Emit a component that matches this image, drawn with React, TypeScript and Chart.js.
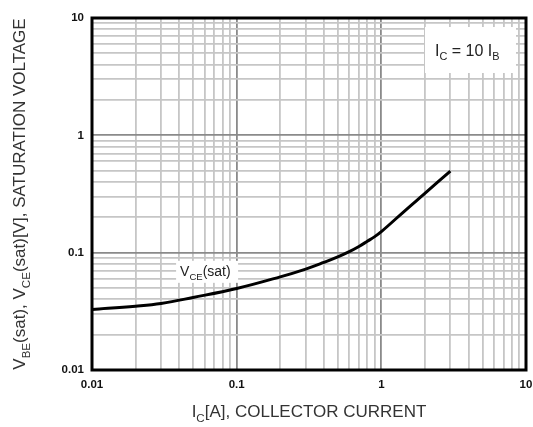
import { useEffect, useRef } from 'react';
import { Chart, registerables } from 'chart.js';
Chart.register(...registerables);

// Data (I_C = 10 I_B, V_CE(sat) curve)
const currentA = [0.01, 0.02, 0.03, 0.05, 0.1, 0.2, 0.3, 0.4, 0.5, 0.6, 0.7, 0.8, 0.9, 1.0, 1.48, 2.0, 3.0];
const vceSat = [0.0328, 0.035, 0.0369, 0.0415, 0.0495, 0.0622, 0.0725, 0.0825, 0.092, 0.102, 0.113, 0.125, 0.137, 0.151, 0.232, 0.32, 0.496];

const decadeTicks = [0.01, 0.1, 1, 10];
const decadeLabels = ['0.01', '0.1', '1', '10'];
const gridMultipliers = [1, 2, 3, 4, 5, 6, 7, 8, 9];

const FONT = '"Liberation Sans", Arial, Helvetica, sans-serif';

function gridValues(): number[] {
  const out: number[] = [];
  for (let i = 0; i < decadeTicks.length - 1; i++) {
    for (const m of gridMultipliers) out.push(Number((decadeTicks[i] * m).toPrecision(3)));
  }
  out.push(decadeTicks[decadeTicks.length - 1]);
  return out;
}

function decadeIndex(v: number): number {
  return decadeTicks.findIndex((d) => Math.abs(Math.log10(v / d)) < 1e-6);
}

type Part = { t: string; sub?: boolean };

function drawRich(ctx: CanvasRenderingContext2D, parts: Part[], x: number, y: number, size: number, align: 'left' | 'center') {
  const subSize = size * 0.68;
  const widths = parts.map((p) => {
    ctx.font = `${p.sub ? subSize : size}px ${FONT}`;
    return ctx.measureText(p.t).width;
  });
  const total = widths.reduce((a, b) => a + b, 0);
  let cx = align === 'center' ? x - total / 2 : x;
  ctx.textAlign = 'left';
  ctx.textBaseline = 'alphabetic';
  parts.forEach((p, i) => {
    ctx.font = `${p.sub ? subSize : size}px ${FONT}`;
    ctx.fillText(p.t, cx, p.sub ? y + size * 0.28 : y);
    cx += widths[i];
  });
}

const yTitle: Part[] = [
  { t: 'V' }, { t: 'BE', sub: true }, { t: '(sat), V' }, { t: 'CE', sub: true }, { t: '(sat)[V], SATURATION VOLTAGE' },
];
const xTitle: Part[] = [{ t: 'I' }, { t: 'C', sub: true }, { t: '[A], COLLECTOR CURRENT' }];
const condText: Part[] = [{ t: 'I' }, { t: 'C', sub: true }, { t: ' = 10 I' }, { t: 'B', sub: true }];
const curveLabel: Part[] = [{ t: 'V' }, { t: 'CE', sub: true }, { t: '(sat)' }];

const decorations = {
  id: 'decorations',
  beforeDatasetsDraw(chart: any) {
    const { ctx, chartArea, scales } = chart;
    ctx.save();
    // condition box (white, top right)
    const bx = chartArea.left + 333, by = chartArea.top + 9, bw = 91, bh = 46;
    ctx.fillStyle = '#fff';
    ctx.fillRect(bx, by, bw, bh);
    ctx.fillStyle = '#222';
    drawRich(ctx, condText, bx + 10, by + 29, 16, 'left');
    // curve label
    const lx = scales.x.getPixelForValue(0.04);
    const ly = scales.y.getPixelForValue(0.07);
    ctx.fillStyle = '#fff';
    ctx.fillRect(lx - 3, ly - 10, 62, 22);
    ctx.fillStyle = '#222';
    drawRich(ctx, curveLabel, lx + 1, ly + 5, 14, 'left');
    ctx.restore();
  },
  afterDraw(chart: any) {
    const { ctx, chartArea } = chart;
    ctx.save();
    ctx.strokeStyle = '#000';
    ctx.lineWidth = 3;
    ctx.strokeRect(chartArea.left, chartArea.top, chartArea.right - chartArea.left, chartArea.bottom - chartArea.top);
    ctx.fillStyle = '#333';
    drawRich(ctx, xTitle, (chartArea.left + chartArea.right) / 2, 417, 17, 'center');
    ctx.translate(25, (chartArea.top + chartArea.bottom) / 2);
    ctx.rotate(-Math.PI / 2);
    drawRich(ctx, yTitle, 0, 0, 17, 'center');
    ctx.restore();
  },
};

function logAxis(fitProp: 'width' | 'height', fitSize: number) {
  return {
    type: 'logarithmic' as const,
    min: 0.01,
    max: 10,
    afterBuildTicks(scale: any) {
      scale.ticks = gridValues().map((v) => ({ value: v, major: decadeIndex(v) >= 0 }));
    },
    afterFit(scale: any) {
      scale[fitProp] = fitSize;
      scale.paddingLeft = 0;
      scale.paddingRight = 0;
      scale.paddingTop = 0;
      scale.paddingBottom = 0;
    },
    border: { display: false },
    grid: {
      drawTicks: false,
      color: (c: any) => (c.tick && decadeIndex(c.tick.value) >= 0 ? '#8a8a8a' : '#c6c6c6'),
      lineWidth: 1.8,
    },
    ticks: {
      autoSkip: false,
      maxRotation: 0,
      padding: 8,
      color: '#111',
      font: { family: FONT, size: 11.5, weight: 'bold' as const },
      callback: (v: any) => {
        const i = decadeIndex(Number(v));
        return i >= 0 ? decadeLabels[i] : '';
      },
    },
  };
}

export default function App() {
  const ref = useRef<HTMLCanvasElement>(null);
  useEffect(() => {
    document.body.style.margin = '0';
    const chart = new Chart(ref.current!, {
      type: 'line',
      data: {
        datasets: [
          {
            label: 'VCE(sat)',
            data: currentA.map((x, i) => ({ x, y: vceSat[i] })),
            borderColor: '#000',
            borderWidth: 3,
            pointRadius: 0,
            tension: 0.4,
            fill: false,
          },
        ],
      },
      options: {
        animation: false,
        responsive: false,
        layout: { padding: { left: 0, right: 7, top: 18, bottom: 0 } },
        plugins: { legend: { display: false }, tooltip: { enabled: false } },
        scales: {
          x: logAxis('height', 57),
          y: logAxis('width', 92),
        },
      },
      plugins: [decorations],
    });
    return () => chart.destroy();
  }, []);
  return <canvas ref={ref} width={533} height={427} style={{ display: 'block' }} />;
}
